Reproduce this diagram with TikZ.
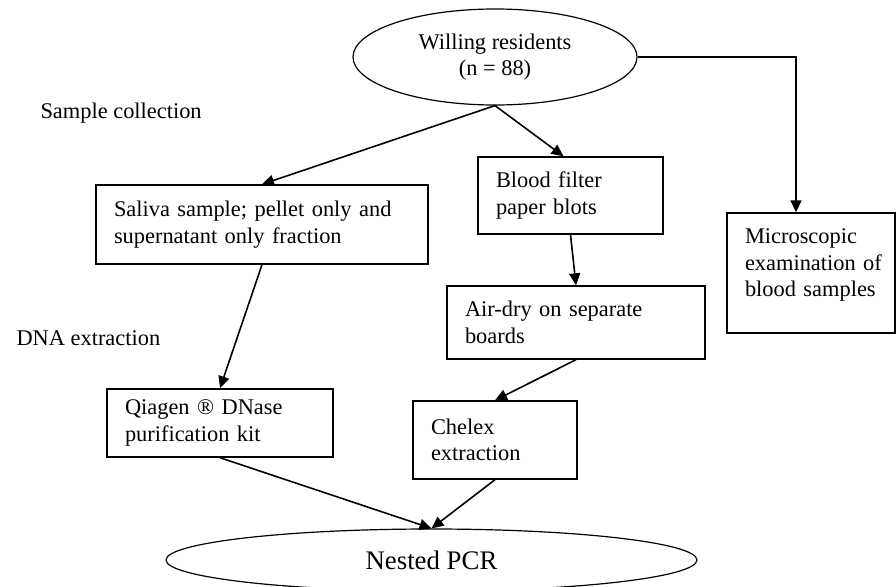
\documentclass[tikz,border=0pt]{standalone}
\usepackage{fontspec}
\setmainfont{Liberation Serif}
\usepackage{tikz}
\usetikzlibrary{shapes.geometric,arrows.meta}

\tikzset{
  stepbox/.style={draw, rectangle, line width=1.4pt, align=left, inner xsep=18pt, inner ysep=0pt},
  oval/.style={draw, ellipse, line width=1.2pt, inner sep=0pt, align=center},
  arr/.style={line width=1.6pt, -{Triangle[length=12pt,width=11pt]}},
}

\begin{document}
\begin{tikzpicture}[x=1pt, y=-1pt, font=\fontsize{22.4}{26.5}\selectfont]
   \useasboundingbox (0,0) rectangle (896,586);

   \node[oval, minimum width=284, minimum height=96] (top) at (495,57) {Willing residents\\(n = 88)};

   \node[anchor=west] (collect) at (37,113) {Sample collection};
   \node[anchor=west] (extract) at (13,338) {DNA extraction};

   \node[stepbox, text width=296, minimum height=79] (saliva) at (262,224.5) {Saliva sample; pellet only and\\supernatant only fraction};
   \node[stepbox, text width=149, minimum height=77] (blood) at (570.5,195.5) {Blood filter\\paper blots};
   \node[stepbox, text width=222, minimum height=73] (airdry) at (576,322.5) {Air-dry on separate\\boards};
   \node[stepbox, text width=190, minimum height=68] (qiagen) at (220,423) {Qiagen ® DNase\\purification kit};
   \node[stepbox, text width=128, minimum height=78] (chelex) at (495,440) {Chelex\\extraction};
   \node[stepbox, text width=132, minimum height=120] (micro) at (811,273) {Microscopic\\examination~of\\blood samples\\[-6pt]\mbox{}};

   \node[oval, minimum width=531, minimum height=62, font=\fontsize{26.8}{30}\selectfont] (pcr) at (431.5,560) {Nested PCR};

   \coordinate (turn) at (796,57);

   \draw[arr] (top.south) -- (saliva.north);
   \draw[arr] (top.south) -- ([xshift=-7pt]blood.north);
   \draw[arr] (top.east) -- (turn) -- (turn |- micro.north);
   \draw[arr] (blood.south) -- (airdry.north);
   \draw[arr] (saliva.south) -- (qiagen.north);
   \draw[arr] (airdry.south) -- (chelex.north);
   \draw[arr] (qiagen.south) -- (pcr.north);
   \draw[arr] (chelex.south) -- (pcr.north);
\end{tikzpicture}
\end{document}
